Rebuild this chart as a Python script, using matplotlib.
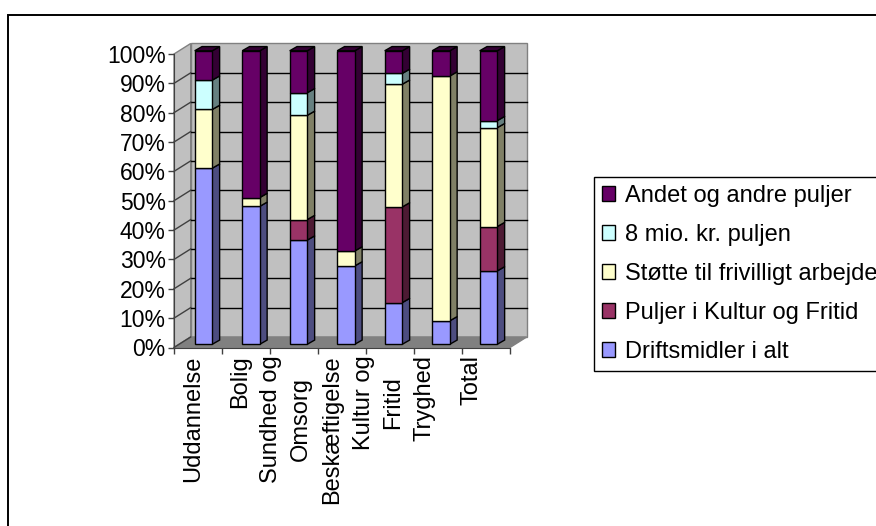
#!/usr/bin/env python3
"""Stablet 3D-agtigt soejlediagram: fordeling af midler pr. omraade."""

import matplotlib
matplotlib.use("Agg")
import matplotlib.pyplot as plt
from matplotlib.patches import Polygon, Rectangle

W, H = 876, 526

categories = ["Uddannelse", "Bolig", "Sundhed og\nOmsorg", "Beskæftigelse",
              "Kultur og\nFritid", "Tryghed", "Total"]
drift = [60.0, 47.0, 35.5, 26.7, 14.2, 8.0, 25.0]
kultur = [0.0, 0.0, 7.0, 0.0, 32.6, 0.0, 15.1]
frivillig = [20.0, 3.0, 35.5, 5.1, 41.8, 83.4, 33.7]
mio8 = [10.0, 0.0, 7.7, 0.0, 3.7, 0.0, 2.4]
andet = [10.0, 50.0, 14.3, 68.2, 7.7, 8.6, 23.8]

series = [
    ("Driftsmidler i alt", drift, "#9999ff", "#4d4d80"),
    ("Puljer i Kultur og Fritid", kultur, "#993366", "#4d1a33"),
    ("Støtte til frivilligt arbejde", frivillig, "#ffffcc", "#808066"),
    ("8 mio. kr. puljen", mio8, "#ccffff", "#668080"),
    ("Andet og andre puljer", andet, "#660066", "#330033"),
]
yticks = list(range(0, 101, 10))


def px_rect(x0, y0, x1, y1):
    return [x0 / W, 1 - y1 / H, (x1 - x0) / W, (y1 - y0) / H]


plt.rcParams["font.family"] = ["Liberation Sans", "DejaVu Sans"]
fig = plt.figure(figsize=(W / 100, H / 100), dpi=100)
fig.patches.append(Rectangle((7.5 / W, -0.01), 1.01, 1 - 14.5 / H + 0.01, transform=fig.transFigure,
                             fc="white", ec="black", lw=1.4, zorder=-1))

ax = fig.add_axes(px_rect(174, 54, 510, 347.5))
ax.set_xlim(0, len(categories))
ax.set_ylim(0, 100)
ax.patch.set_visible(False)

# dybde i data-enheder
DX = 16.7 / 48
DY = 10.5 / 2.93
BAR_W = 17.6 / 48
BAR_LEFT = 0.431
BAR_STEP = 47.5 / 48
BAR_DY = 1.1
n = len(categories)


def poly(pts, **kw):
    kw.setdefault("clip_on", False)
    ax.add_patch(Polygon(pts, closed=True, **kw))


# vaegge og gulv
poly([(DX, DY), (n + DX, DY), (n + DX, 100 + DY), (DX, 100 + DY)], fc="#c0c0c0", ec="#808080", lw=1, zorder=1)
poly([(0, 0), (DX, DY), (DX, 100 + DY), (0, 100)], fc="#c0c0c0", ec="#808080", lw=1, zorder=1)
poly([(0, 0), (n, 0), (n + DX, DY), (DX, DY)], fc="#808080", ec="#808080", lw=1, zorder=1)

for t in yticks[1:-1]:
    ax.plot([DX, n + DX], [t + DY, t + DY], color="black", lw=1, clip_on=False, zorder=2)
for t in yticks[:-1]:
    ax.plot([0, DX], [t, t + DY], color="#404040", lw=1, clip_on=False, zorder=2)

bar_d = DX * 0.44
bar_dy = DY * 0.4
for i in range(n):
    left = BAR_LEFT + i * BAR_STEP
    right = left + BAR_W
    base = 0.0
    for name, vals, col, dark in series:
        v = vals[i]
        if v <= 0:
            continue
        y0, y1 = base + BAR_DY, base + v + BAR_DY
        ax.bar(left, v, BAR_W, bottom=y0, align="edge", color=col, edgecolor="black", lw=1,
               clip_on=False, zorder=4)
        poly([(right, y0), (right + bar_d, y0 + bar_dy), (right + bar_d, y1 + bar_dy), (right, y1)],
             fc=dark, ec="black", lw=1, zorder=3)
        base += v
        top_col = dark
    poly([(left, base + BAR_DY), (right, base + BAR_DY), (right + bar_d, base + BAR_DY + bar_dy),
          (left + bar_d, base + BAR_DY + bar_dy)], fc=top_col, ec="black", lw=1, zorder=3)

for side in ("top", "right"):
    ax.spines[side].set_visible(False)
for side in ("left", "bottom"):
    ax.spines[side].set_color("#404040")
    ax.spines[side].set_zorder(5)

ax.set_yticks(yticks)
ax.set_yticklabels([f"{t}%" for t in yticks], fontsize=16.5)
ax.set_xticks(range(n + 1))
ax.set_xticklabels([])
ax.tick_params(axis="both", length=4, width=1, color="#404040", pad=2)
# etiketterne staar lidt taettere end soejlerne i originalen
for i, c in enumerate(categories):
    off_px = -4.5 - 1.7 * i
    ax.annotate(c, (i + 0.5, 0), xytext=(off_px * 0.72, -5.5), textcoords="offset points", rotation=90,
                ha="center", va="top", ma="center", fontsize=17, linespacing=1.45, annotation_clip=False)

# legend, raekkefoelgen er omvendt som i stakken
handles = [Rectangle((0, 0), 1, 1, fc=col, ec="black", lw=1) for _, _, col, _ in reversed(series)]
labels = [name for name, *_ in reversed(series)]
leg = fig.legend(handles, labels, loc="upper left", bbox_to_anchor=(593.5 / W, 1 - 177 / H),
                 fontsize=17, frameon=True, fancybox=False, edgecolor="black", framealpha=1,
                 handlelength=0.58, handleheight=0.58, handletextpad=0.42, labelspacing=0.715,
                 borderpad=0.34, borderaxespad=0)
leg.get_frame().set_linewidth(1)

fig.savefig("out.png", dpi=100)
